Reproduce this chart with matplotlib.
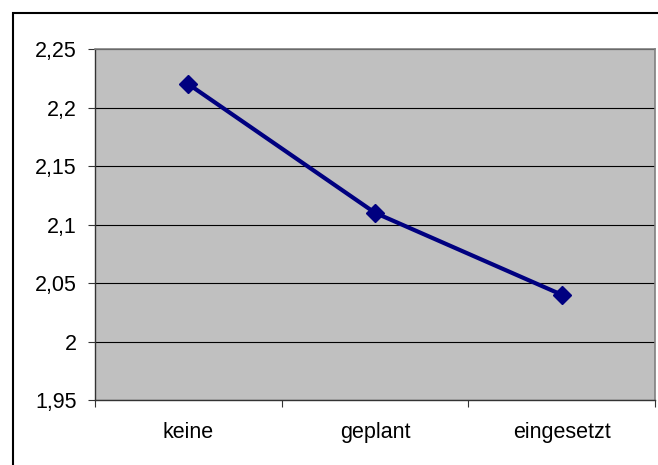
import matplotlib.pyplot as plt
import matplotlib.patches as patches
from matplotlib.ticker import FuncFormatter, FixedLocator

plt.rcParams['font.family'] = ['Liberation Sans', 'DejaVu Sans']

# data
categories = ['keine', 'geplant', 'eingesetzt']
values = [2.22, 2.11, 2.04]
y_ticks = [1.95, 2.0, 2.05, 2.1, 2.15, 2.2, 2.25]

fig = plt.figure(figsize=(6.58, 4.65), dpi=100)
ax = fig.add_axes([95 / 658, 65 / 465, 560 / 658, 351 / 465])
ax.set_facecolor('#C0C0C0')

x = list(range(len(categories)))
ax.plot(x, values, color='#000080', linewidth=3, marker='D', markersize=9.5, zorder=3)

ax.set_xlim(-0.5, len(categories) - 0.5)
ax.set_ylim(y_ticks[0], y_ticks[-1])
ax.set_yticks(y_ticks)
ax.yaxis.set_major_formatter(FuncFormatter(lambda v, p: f'{v:g}'.replace('.', ',')))
ax.grid(axis='y', color='black', linewidth=0.8)
ax.set_axisbelow(True)

# category labels in the middle, tick marks between categories
ax.set_xticks(x)
ax.set_xticklabels(categories)
ax.xaxis.set_minor_locator(FixedLocator([i - 0.5 for i in range(len(categories) + 1)]))
ax.tick_params(axis='x', which='major', length=0, pad=16, labelsize=15.5)
ax.tick_params(axis='x', which='minor', length=5, width=0.8, direction='out', color='#333333')
ax.tick_params(axis='y', length=5, width=0.8, pad=8, labelsize=15.5, color='#333333')

for side in ['top', 'right']:
    ax.spines[side].set_color('#808080')
    ax.spines[side].set_linewidth(1.2)
for side in ['left', 'bottom']:
    ax.spines[side].set_color('#333333')
    ax.spines[side].set_linewidth(1)

# outer chart border (only top/left visible in the original)
border = patches.Rectangle((13 / 658, -0.1), 1.2, (465 - 13) / 465 + 0.1,
                           transform=fig.transFigure, fill=False,
                           edgecolor='black', linewidth=1.5, clip_on=False)
fig.patches.append(border)

fig.savefig('out.png', dpi=100)
